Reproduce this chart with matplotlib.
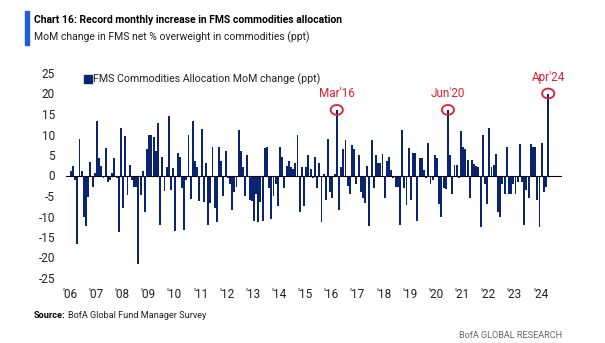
import matplotlib
matplotlib.use("Agg")
import matplotlib.pyplot as plt
from matplotlib.patches import Ellipse, Rectangle
import numpy as np

# Month-on-month change in FMS net % overweight commodities (ppt), Jan-2006 .. Apr-2024
mom_2006 = [1.2, 2.2, -1.0, -16.7, 9.0, 1.0, -10.0, -12.3, -5.3, 3.2, -2.7, 0.5]
mom_2007 = [13.2, 4.2, 2.3, -0.5, 6.6, -1.5, -1.0, 0.5, 4.2, -0.5, -13.7, 11.6]
mom_2008 = [-8.0, 9.6, -4.8, 2.5, -1.0, -2.7, -2.7, -21.6, -4.8, 1.0, -9.0, 6.5]
mom_2009 = [10.0, 10.0, 9.5, 6.0, 12.8, -12.0, 4.6, -3.7, 2.0, 14.4, -3.5, 1.8]
mom_2010 = [-13.5, 5.5, 4.6, -3.1, -13.3, -1.0, 10.0, -5.7, 13.4, 3.6, 2.0, -6.2]
mom_2011 = [11.4, -6.4, 3.0, -12.0, -6.6, 7.0, -7.9, -11.3, 7.0, 3.5, -5.0, 6.0]
mom_2012 = [-0.5, -2.0, -8.3, -4.0, -2.7, 11.0, 6.0, 2.0, -5.0, 5.0, -6.0, -6.3]
mom_2013 = [-11.0, -4.5, -11.3, -6.5, -11.0, 6.6, 7.0, -3.0, -10.5, -4.9, -2.0, -7.5]
mom_2014 = [7.0, 4.4, -3.0, 2.3, 3.5, 2.0, 1.7, 3.0, 10.0, -9.0, 2.0, -7.5]
mom_2015 = [2.0, 5.0, 1.5, -0.5, 4.6, -3.0, 3.0, -11.4, 0.3, -6.0, 9.0, -4.0]
mom_2016 = [-5.5, 0.3, 16.0, -8.5, 2.0, 6.5, 8.7, -2.5, -4.5, 7.5, 6.5, -2.0]
mom_2017 = [5.0, -4.0, -5.5, -6.8, 2.3, -12.3, 8.6, -3.0, 5.0, 3.0, 3.0, 5.3]
mom_2018 = [-5.5, 3.5, 4.5, 1.4, -0.5, -2.7, -2.7, -12.0, 11.0, -3.0, -7.3, 6.8]
mom_2019 = [-6.0, 5.6, 5.6, -11.0, 4.3, 4.2, 1.3, -0.6, 8.0, -2.0, -1.0, 5.0]
mom_2020 = [4.3, -7.0, -10.0, -3.0, -3.2, 16.0, 5.0, -4.5, 2.5, 2.6, -0.5, 10.8]
mom_2021 = [7.0, 6.4, 3.8, -5.5, 3.7, 2.8, 2.2, 2.0, -12.5, 9.8, -2.0, -7.0]
mom_2022 = [11.5, 2.0, 2.5, 5.3, -9.0, -10.0, -2.0, -4.5, 7.0, -4.6, -4.6, -2.0]
mom_2023 = [-4.5, -1.5, 7.8, -1.5, -12.0, -3.5, -5.5, 7.8, 7.0, 7.0, -6.0, -12.5]
mom_2024 = [8.0, -4.0, -2.8, 20.0]

year_labels = ["'06", "'07", "'08", "'09", "'10", "'11", "'12", "'13", "'14", "'15",
               "'16", "'17", "'18", "'19", "'20", "'21", "'22", "'23", "'24"]
callouts = [("Mar'16", 2016, 3), ("Jun'20", 2020, 6), ("Apr'24", 2024, 4)]

values = np.array(mom_2006 + mom_2007 + mom_2008 + mom_2009 + mom_2010 + mom_2011 +
                  mom_2012 + mom_2013 + mom_2014 + mom_2015 + mom_2016 + mom_2017 +
                  mom_2018 + mom_2019 + mom_2020 + mom_2021 + mom_2022 + mom_2023 +
                  mom_2024)
months = np.arange(len(values))

NAVY = "#0a2471"
RED = "#e0202e"
ACCENT = "#1f5fd6"
plt.rcParams["font.family"] = ["Roboto", "DejaVu Sans"]

W, H = 605, 343
fig = plt.figure(figsize=(W / 100, H / 100), dpi=100)
fig.patch.set_facecolor("white")

# plot area (pixel geometry converted to figure fractions)
left, right, top, bottom = 66, 562, 73, 278
ax = fig.add_axes([left / W, 1 - bottom / H, (right - left) / W, (bottom - top) / H])
ax.bar(months, values, width=0.88, color=NAVY, linewidth=0)
ax.axhline(0, color="black", lw=0.8, zorder=3)
ax.set_ylim(-25, 25)
ax.set_xlim(-2.2, -2.2 + (right - left) / 2.18)

ax.set_yticks(np.arange(-25, 26, 5))
ax.set_yticklabels([str(v) for v in range(-25, 26, 5)])
ax.set_xticks(np.arange(len(year_labels)) * 12 - 0.5)
ax.set_xticklabels(year_labels)
ax.tick_params(axis="both", length=0, labelsize=8.5, colors="#222222")
ax.tick_params(axis="y", pad=8)
ax.tick_params(axis="x", pad=7)
for s in ax.spines.values():
    s.set_visible(False)

# callouts: red ring around the bar top with the month above it
for label, yr, mon in callouts:
    idx = (yr - 2006) * 12 + (mon - 1)
    v = values[idx]
    ax.add_patch(Ellipse((idx, v), 5.6, 2.4, fill=False, edgecolor=RED, lw=1.3, zorder=4))
    ax.annotate(label, (idx, v), xytext=(0, 7), textcoords="offset points",
                ha="center", va="bottom", color=RED, fontsize=8.5)

# legend
fig.patches.append(Rectangle((84 / W, 1 - 83 / H), 8 / W, 8 / H, color=NAVY,
                             transform=fig.transFigure, figure=fig))
fig.text(93 / W, 1 - 79 / H, "FMS Commodities Allocation MoM change (ppt)",
         fontsize=7.7, va="center", ha="left", color="#222222")

# heading
fig.patches.append(Rectangle((25 / W, 1 - 45 / H), 4 / W, 34 / H, color=ACCENT,
                             transform=fig.transFigure, figure=fig))
fig.text(34 / W, 1 - 20 / H, "Chart 16: Record monthly increase in FMS commodities allocation",
         fontsize=7.5, fontweight="bold", va="center", ha="left", color="black")
fig.text(34 / W, 1 - 37 / H, "MoM change in FMS net % overweight in commodities (ppt)",
         fontsize=7.5, va="center", ha="left", color="#222222")

# footer
src = fig.text(34 / W, 1 - 316 / H, "Source:", fontsize=6.6, fontweight="bold",
               va="center", ha="left", color="black")
fig.canvas.draw()
bb = src.get_window_extent(fig.canvas.get_renderer())
fig.text(bb.x1 / W + 2 / W, 1 - 316 / H, "BofA Global Fund Manager Survey",
         fontsize=6.6, va="center", ha="left", color="#222222")
fig.text(562 / W, 1 - 336 / H, "BofA GLOBAL RESEARCH", fontsize=6.6, va="center",
         ha="right", color="#666666")

fig.savefig("out.png", dpi=100, facecolor="white")
